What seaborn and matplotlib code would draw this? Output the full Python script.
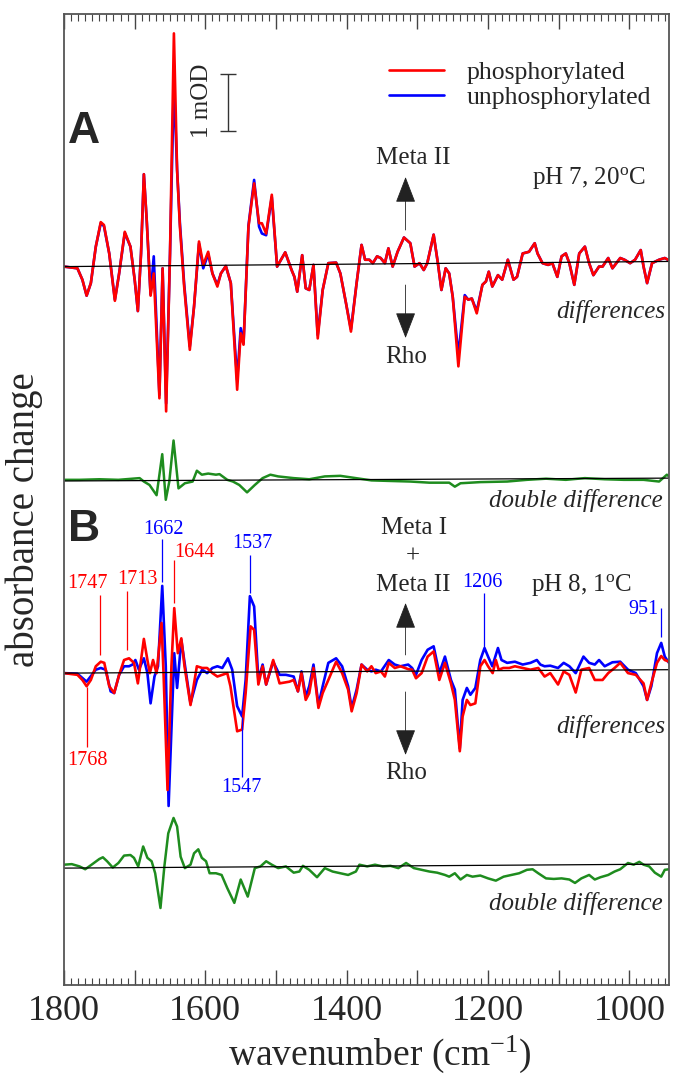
import numpy as np
import matplotlib
matplotlib.use("Agg")
import matplotlib.pyplot as plt
import seaborn as sns
from matplotlib.ticker import FixedLocator, FixedFormatter, MultipleLocator

# ---------------- data (wavenumber in cm-1, absorbance change in mOD) ----------------
# Panel A (pH 7, 20 C) difference spectra, 1800-1500 cm-1
wn_A_hi = [1800, 1781, 1774, 1768, 1762, 1755, 1748, 1743.5, 1736, 1728,
           1722, 1714, 1706, 1700, 1695.5, 1691, 1687, 1683, 1677.5, 1673,
           1665, 1660.5, 1655.5, 1650, 1644.5, 1640, 1636, 1630, 1622, 1616,
           1609, 1603, 1596, 1590, 1583, 1578, 1571, 1564, 1555, 1550,
           1546, 1539, 1531, 1524, 1520, 1514, 1506, 1498.5]
phos_A_hi = [0.00, -0.03, -0.23, -0.51, -0.29, 0.35, 0.78, 0.73, 0.23, -0.60,
             -0.12, 0.61, 0.35, -0.23, -0.78, 0.23, 1.62, 0.82, -0.51, -0.12,
             -2.31, -0.03, -2.54, 0.23, 4.09, 1.70, 0.70, -0.35, -1.46, -0.70,
             0.44, 0.03, 0.26, -0.12, -0.35, -0.12, 0.01, -0.29, -2.16, -1.17,
             -1.37, 0.70, 1.46, 0.76, 0.76, 0.58, 1.26, 0.00]
unphos_A_hi = [0.00, -0.03, -0.23, -0.51, -0.29, 0.35, 0.76, 0.71, 0.23, -0.58,
               -0.12, 0.59, 0.35, -0.23, -0.78, 0.23, 1.62, 0.82, -0.49, 0.18,
               -2.25, -0.03, -2.40, 0.23, 3.25, 1.70, 0.76, -0.30, -1.40, -0.70,
               0.40, -0.03, 0.22, -0.12, -0.32, -0.12, 0.01, -0.29, -1.99, -1.08,
               -1.35, 0.72, 1.52, 0.70, 0.58, 0.55, 1.22, 0.00]
# Panel A difference spectra, 1500-944 cm-1
wn_A_lo = [1487, 1478, 1474, 1470, 1463, 1458, 1453, 1447, 1441, 1434,
           1426, 1415, 1409, 1401, 1394, 1386, 1379, 1374, 1368, 1363,
           1357, 1352, 1346, 1341, 1335, 1328, 1319, 1310, 1304, 1297,
           1291, 1286, 1277, 1271, 1266, 1260, 1255, 1250, 1242, 1233,
           1228, 1223, 1216, 1208, 1203, 1199, 1194, 1186, 1180, 1172,
           1164, 1159, 1151, 1142, 1134, 1130, 1123, 1115, 1109, 1102,
           1096, 1090, 1085, 1078, 1071, 1063, 1057, 1051, 1043, 1038,
           1030, 1024, 1013, 1007, 999, 992, 984, 980, 975, 968,
           958, 950, 944]
phos_A_lo = [0.25, -0.06, -0.18, -0.44, 0.20, -0.38, -0.41, 0.03, -1.26, -0.41,
             0.06, 0.07, -0.12, -0.64, -1.14, -0.29, 0.38, 0.12, 0.12, 0.06,
             0.18, 0.15, 0.06, 0.32, 0.00, 0.26, 0.51, 0.41, 0.00, 0.06,
             -0.06, 0.06, 0.56, 0.06, -0.41, -0.03, -0.12, -0.53, -1.75, -0.53,
             -0.58, -0.56, -0.82, -0.32, -0.26, -0.09, -0.35, -0.15, -0.23, 0.12,
             -0.23, -0.18, 0.23, 0.26, 0.41, 0.23, 0.06, 0.03, 0.06, -0.18,
             0.18, 0.23, 0.06, -0.32, 0.23, 0.35, 0.06, -0.15, 0.00, 0.00,
             0.15, -0.03, 0.15, 0.12, 0.06, 0.12, 0.29, 0.00, -0.29, 0.06,
             0.12, 0.15, 0.11]
unphos_A_lo = [0.25, -0.06, -0.18, -0.44, 0.20, -0.38, -0.41, 0.03, -1.20, -0.41,
               0.06, 0.07, -0.12, -0.64, -1.10, -0.29, 0.38, 0.12, 0.12, 0.06,
               0.18, 0.15, 0.06, 0.32, 0.00, 0.26, 0.51, 0.41, 0.00, 0.06,
               -0.06, 0.06, 0.56, 0.06, -0.41, -0.03, -0.12, -0.53, -1.55, -0.50,
               -0.58, -0.56, -0.78, -0.32, -0.26, -0.09, -0.35, -0.15, -0.23, 0.12,
               -0.23, -0.18, 0.23, 0.26, 0.41, 0.23, 0.06, 0.03, 0.06, -0.18,
               0.18, 0.23, 0.06, -0.32, 0.23, 0.35, 0.06, -0.15, 0.00, 0.00,
               0.15, -0.03, 0.15, 0.12, 0.06, 0.12, 0.29, 0.00, -0.29, 0.06,
               0.12, 0.15, 0.11]

# Panel A double difference
wn_Add = [1800, 1778, 1750, 1723, 1693, 1687, 1679, 1669, 1661, 1656,
          1651, 1645, 1638, 1629, 1618, 1612, 1605, 1596, 1585, 1580,
          1569, 1561, 1552, 1541, 1530, 1519, 1508, 1497, 1475, 1453,
          1431, 1409, 1387, 1365, 1338, 1310, 1283, 1255, 1247, 1239,
          1211, 1173, 1145, 1118, 1090, 1063, 1035, 1008, 980, 958,
          947, 944]
dd_A = [0.02, 0.02, 0.03, 0.02, 0.05, -0.01, -0.07, -0.25, 0.47, -0.33,
        -0.01, 0.71, -0.13, -0.04, -0.01, 0.18, 0.11, 0.13, 0.11, 0.12,
        0.02, -0.01, -0.07, -0.20, -0.07, 0.05, 0.11, 0.08, 0.05, 0.03,
        0.08, 0.09, 0.05, 0.01, 0.00, -0.01, -0.03, -0.03, -0.10, -0.04,
        -0.02, -0.01, 0.02, 0.04, 0.02, 0.05, 0.03, 0.02, 0.02, -0.01,
        0.11, 0.08]

# Panel B (pH 8, 1 C) phosphorylated difference spectrum
wn_Bp_hi = [1800, 1781, 1774, 1768, 1762, 1755, 1748, 1743, 1736, 1729,
            1722, 1715, 1708, 1701, 1695.5, 1691, 1687, 1682, 1678.5, 1674,
            1669, 1662, 1659, 1653.5, 1648, 1644, 1639, 1634, 1629.5, 1621,
            1612, 1604.5, 1597.5, 1590, 1583, 1576, 1569, 1564.5, 1555, 1548,
            1543, 1536, 1531, 1525, 1519, 1514, 1504, 1495]
phos_B_hi = [0.00, -0.03, -0.12, -0.23, -0.12, 0.12, 0.20, 0.18, -0.23, -0.35,
             -0.03, 0.23, 0.26, 0.18, -0.18, 0.23, 0.60, 0.23, 0.00, 0.23,
             0.00, 0.88, -0.06, -2.05, 0.12, 1.14, 0.35, 0.61, 0.12, -0.56,
             0.12, 0.09, 0.09, 0.00, -0.06, -0.03, 0.00, -0.23, -1.02, -0.99,
             -0.35, 0.82, 0.76, -0.20, 0.12, -0.20, 0.23, -0.18]
wn_Bp_lo = [1481, 1475, 1469, 1464, 1458, 1453, 1447, 1440, 1434, 1426,
            1415, 1406.5, 1398, 1393, 1386, 1379, 1371, 1365, 1359, 1351.5,
            1346, 1340.5, 1332, 1324, 1313, 1307.5, 1302, 1294, 1285.5, 1277,
            1269, 1261, 1252.5, 1247, 1240, 1236, 1230, 1225, 1218, 1211,
            1205, 1200, 1193.5, 1189, 1185, 1178.5, 1170, 1162, 1151, 1140,
            1129, 1120, 1112, 1101, 1093, 1085, 1076, 1068, 1057, 1049,
            1038, 1030, 1021, 1013, 1002, 991, 980, 975, 969, 961,
            955, 950, 944]
phos_B_lo = [-0.15, -0.12, -0.32, 0.00, -0.47, -0.35, 0.09, -0.61, -0.35, -0.12,
             0.20, 0.00, -0.29, -0.67, -0.35, 0.15, 0.03, 0.12, 0.00, 0.03,
             -0.06, 0.18, 0.09, 0.12, 0.07, 0.06, -0.09, 0.00, 0.29, 0.38,
             -0.12, 0.18, -0.18, -0.47, -1.37, -0.76, -0.47, -0.56, -0.53, 0.12,
             0.23, 0.12, 0.00, 0.23, 0.06, 0.09, 0.09, 0.12, 0.09, 0.06,
             0.09, -0.06, 0.00, -0.20, 0.03, -0.03, -0.34, 0.06, 0.09, -0.12,
             -0.12, 0.00, 0.09, 0.18, 0.00, -0.03, -0.18, -0.47, -0.18, 0.18,
             0.30, 0.23, 0.20]

# Panel B unphosphorylated difference spectrum
wn_Bu_hi = [1800, 1781, 1768, 1755, 1748, 1741, 1734, 1729, 1722, 1715,
            1708, 1703, 1699, 1694, 1687, 1682, 1677.5, 1672, 1667, 1661,
            1656, 1652, 1644, 1640, 1634, 1628, 1621, 1612, 1604.5, 1597.5,
            1590, 1583, 1576, 1568, 1562, 1555, 1548, 1543, 1537, 1531,
            1525, 1519, 1514, 1504, 1495]
unphos_B_hi = [0.00, -0.01, -0.15, 0.06, 0.09, 0.06, -0.32, -0.35, -0.03, 0.12,
               0.12, 0.15, 0.23, 0.06, 0.26, 0.00, -0.53, -0.06, 0.12, 1.53,
               0.12, -2.33, 0.35, -0.26, 0.58, 0.06, -0.53, -0.12, 0.06, 0.00,
               0.09, 0.12, 0.09, 0.26, 0.06, -0.58, -0.76, -0.12, 1.35, 1.17,
               -0.12, 0.15, -0.20, 0.20, -0.03]
wn_Bu_lo = [1486, 1475, 1469, 1464, 1458, 1453, 1447, 1440, 1434, 1426,
            1415, 1406.5, 1398, 1393, 1386, 1379, 1371, 1365, 1359, 1351.5,
            1340.5, 1332, 1324, 1313, 1307.5, 1302, 1294, 1285.5, 1277, 1269,
            1261, 1252.5, 1247, 1240, 1236, 1230, 1225, 1218, 1211, 1205,
            1200, 1194, 1186, 1181, 1173, 1162, 1151, 1140, 1131, 1126,
            1120, 1112, 1101, 1093, 1085, 1076, 1065, 1057, 1049, 1043,
            1035, 1024, 1013, 1002, 991, 980, 975, 969, 961, 955,
            950, 944]
unphos_B_lo = [-0.03, -0.06, -0.32, 0.03, -0.41, -0.23, 0.15, -0.56, -0.23, 0.18,
               0.26, 0.12, -0.23, -0.61, -0.29, 0.15, 0.06, 0.03, 0.06, 0.03,
               0.23, 0.15, 0.12, 0.15, 0.09, -0.03, 0.23, 0.41, 0.47, 0.00,
               0.29, -0.12, -0.29, -1.32, -0.47, -0.26, -0.38, -0.26, 0.23, 0.44,
               0.29, 0.12, 0.44, 0.23, 0.18, 0.20, 0.15, 0.18, 0.23, 0.15,
               0.12, 0.13, 0.09, 0.18, 0.12, 0.00, 0.29, 0.18, 0.15, 0.23,
               0.12, 0.19, 0.20, 0.06, 0.00, -0.23, -0.47, -0.23, 0.35, 0.53,
               0.29, 0.18]

# Panel B double difference
wn_Bdd = [1800, 1789, 1778, 1770, 1761, 1750, 1745, 1739, 1731, 1723,
          1715, 1706, 1701, 1695, 1688, 1682, 1676, 1671, 1663.5, 1658,
          1652.5, 1645, 1640, 1635, 1629, 1621, 1616, 1610, 1605, 1599,
          1594, 1585, 1577, 1569, 1559, 1550, 1540, 1530, 1522, 1514,
          1506, 1497, 1486, 1475, 1467, 1462, 1453, 1442, 1431, 1420,
          1409, 1398, 1387, 1382, 1371, 1360, 1349, 1338, 1327, 1316,
          1305, 1294, 1283, 1272, 1261, 1255, 1247, 1239, 1230, 1222,
          1211, 1200, 1189, 1178, 1167, 1156, 1145, 1137, 1129, 1118,
          1107, 1096, 1085, 1077, 1068, 1057, 1049, 1041, 1030, 1021,
          1013, 1002, 994, 986, 980, 972, 964, 955, 950, 944]
dd_B = [0.06, 0.07, 0.03, -0.02, 0.06, 0.16, 0.19, 0.12, 0.01, 0.09,
        0.22, 0.23, 0.18, 0.03, 0.38, 0.18, 0.12, -0.09, -0.70, 0.03,
        0.61, 0.88, 0.73, 0.20, 0.00, 0.06, 0.26, 0.33, 0.18, 0.12,
        -0.09, -0.09, -0.12, -0.35, -0.61, -0.20, -0.50, 0.00, 0.03, 0.12,
        0.06, 0.00, 0.03, -0.08, -0.06, 0.04, -0.03, -0.16, 0.00, -0.06,
        -0.09, -0.12, -0.06, 0.06, 0.03, 0.06, 0.03, 0.04, 0.00, 0.09,
        0.00, -0.03, -0.06, -0.08, -0.12, -0.15, -0.09, -0.20, -0.12, -0.15,
        -0.13, -0.18, -0.22, -0.15, -0.12, -0.09, -0.03, -0.02, -0.09, -0.18,
        -0.19, -0.18, -0.20, -0.26, -0.18, -0.12, -0.20, -0.16, -0.12, -0.06,
        -0.02, 0.09, 0.06, 0.11, 0.06, 0.03, -0.08, -0.15, -0.03, -0.02]

# zero lines (start / end value of each drawn baseline, mOD)
baseline_ends = [1800, 944]
baseline_rise = [0.09, 0.05, 0.06, 0.07]

# labelled band positions in panel B
band_wn = [1662, 1644, 1537, 1749, 1711, 1768, 1548, 1206, 955]
band_text = ["1662", "1644", "1537", "1747", "1713", "1768", "1547", "1206", "951"]
band_color = ["blue", "red", "blue", "red", "red", "red", "blue", "blue", "blue"]

tick_pos = [1800, 1700, 1600, 1500, 1400, 1300, 1200, 1100, 1000]
tick_lab = ["1800", "", "1600", "", "1400", "", "1200", "", "1000"]

# ---------------- styling ----------------
sns.set_style("ticks")
plt.rcParams["font.family"] = ["Liberation Serif", "DejaVu Serif"]
plt.rcParams["mathtext.fontset"] = "custom"
plt.rcParams["mathtext.rm"] = "Liberation Serif"
plt.rcParams["mathtext.it"] = "Liberation Serif:italic"

RED, BLUE, GREEN = "#ff0000", "#0000ff", "#1e8c1e"
offs = [0.0, -3.76, -7.13, -10.55]   # vertical stacking of the four traces

fig = plt.figure(figsize=(6.74, 10.76), dpi=100)
ax = fig.add_axes([64 / 674, 91 / 1076, 605 / 674, 971 / 1076])


def trace(x, y, off, color, lw):
    sns.lineplot(x=np.asarray(x, float), y=np.asarray(y, float) + off, ax=ax,
                 color=color, lw=lw, estimator=None, sort=False, legend=False,
                 solid_joinstyle="round", solid_capstyle="round")
    return ax.lines[-1]


hb = trace(wn_A_hi + wn_A_lo, unphos_A_hi + unphos_A_lo, offs[0], BLUE, 1.9)
hr = trace(wn_A_hi + wn_A_lo, phos_A_hi + phos_A_lo, offs[0], RED, 1.9)
trace(wn_Add, dd_A, offs[1], GREEN, 1.8)
trace(wn_Bu_hi + wn_Bu_lo, unphos_B_hi + unphos_B_lo, offs[2], BLUE, 1.9)
trace(wn_Bp_hi + wn_Bp_lo, phos_B_hi + phos_B_lo, offs[2], RED, 1.9)
trace(wn_Bdd, dd_B, offs[3], GREEN, 1.8)

for off, rise in zip(offs, baseline_rise):
    sns.lineplot(x=baseline_ends, y=[off, off + rise], ax=ax, color="black",
                 lw=0.9, estimator=None, sort=False, legend=False)

# scale bar : 1 mOD
ax.errorbar([1568], [2.88], yerr=[0.5], fmt="none", ecolor="#333333",
            elinewidth=1.0, capsize=6, capthick=1.0)
ax.text(0.2281, 0.9104, "1 mOD", transform=ax.transAxes, rotation=90,
        ha="center", va="center", fontsize=18)

# axes
ax.set_xlim(1800, 944)
ax.set_ylim(-12.60, 4.43)
ax.set_yticks([])
ax.xaxis.set_major_locator(FixedLocator(tick_pos))
ax.xaxis.set_major_formatter(FixedFormatter(tick_lab))
ax.xaxis.set_minor_locator(MultipleLocator(10))
ax.tick_params(axis="x", which="major", direction="in", length=10.5, width=1.0,
               top=True, bottom=True, labelsize=26, pad=7, color="#444444")
ax.tick_params(axis="x", which="minor", direction="in", length=5, width=0.8,
               top=True, bottom=True, color="#444444")
for s in ax.spines.values():
    s.set_color("#555555")
    s.set_linewidth(1.3)
    s.set_visible(True)

ax.set_xlabel("wavenumber (cm$^{-1}$)", fontsize=27)
ax.xaxis.set_label_coords(0.522, -0.050)
ax.set_ylabel("absorbance change", fontsize=28)
ax.yaxis.set_label_coords(-0.035, 0.479)

# legend
ax.legend([hr, hb], ["phosphorylated", "unphosphorylated"], loc="upper left",
          bbox_to_anchor=(0.5372, 0.9518), frameon=False, fontsize=18.5,
          handlelength=2.15, handletextpad=0.88, labelspacing=0.09,
          borderpad=0, borderaxespad=0)

# panel letters
for letter, fy in [("A", 0.8795), ("B", 0.4696)]:
    ax.text(0.033, fy, letter, transform=ax.transAxes, ha="center", va="center",
            fontsize=32, fontweight="bold", family="Liberation Sans")


# state labels and arrows
def arrow(y_tip, y_tail):
    ax.annotate("", xy=(0.5646, y_tip), xytext=(0.5646, y_tail),
                xycoords="axes fraction", textcoords="axes fraction",
                arrowprops=dict(arrowstyle="-|>,head_length=0.83,head_width=0.32",
                                color="#222222", lw=0.6, shrinkA=0, shrinkB=0,
                                mutation_scale=20))


arrow(0.8321, 0.7775)
arrow(0.6663, 0.7209)
arrow(0.3934, 0.3399)
arrow(0.2369, 0.3018)

txt = dict(transform=ax.transAxes, fontsize=18, va="center")
ax.text(0.5769, 0.8517, "Meta II", ha="center", **txt)
ax.text(0.5653, 0.6468, "Rho", ha="center", **txt)
ax.text(0.5785, 0.4707, "Meta I", ha="center", **txt)
ax.text(0.5769, 0.4408, "+", ha="center", **txt)
ax.text(0.5769, 0.4119, "Meta II", ha="center", **txt)
ax.text(0.5653, 0.2183, "Rho", ha="center", **txt)
ax.text(0.9613, 0.8311, r"pH 7, 20$^{\mathrm{o}}$C", ha="right", **txt)
ax.text(0.9388, 0.4119, r"pH 8, 1$^{\mathrm{o}}$C", ha="right", **txt)
ax.text(0.9934, 0.6931, "differences", ha="right", style="italic", **txt)
ax.text(0.9900, 0.4985, "double difference", ha="right", style="italic", **txt)
ax.text(0.9934, 0.2667, "differences", ha="right", style="italic", **txt)
ax.text(0.9900, 0.0844, "double difference", ha="right", style="italic", **txt)

# band markers (panel B)
line_top = [-4.78, -5.15, -5.06, -5.76, -5.69, -7.37, -7.90, -5.73, -5.99]
line_bot = [-5.53, -5.90, -5.73, -6.81, -6.73, -8.43, -8.95, -6.67, -6.50]
text_pos = [(0.165, 0.4686), (0.2149, 0.4459), (0.3119, 0.4552), (0.0385, 0.4140),
            (0.1207, 0.4171), (0.0385, 0.2307), (0.2926, 0.2029), (0.6909, 0.4150),
            (0.9582, 0.3872)]
for w, t, c, y1, y2, (tx, ty) in zip(band_wn, band_text, band_color, line_top,
                                     line_bot, text_pos):
    ax.vlines(w, y2, y1, color=c, lw=0.9)
    ax.text(tx, ty, t, transform=ax.transAxes, color=c, fontsize=14.5,
            ha="center", va="center")

fig.savefig("out.png", dpi=100)
